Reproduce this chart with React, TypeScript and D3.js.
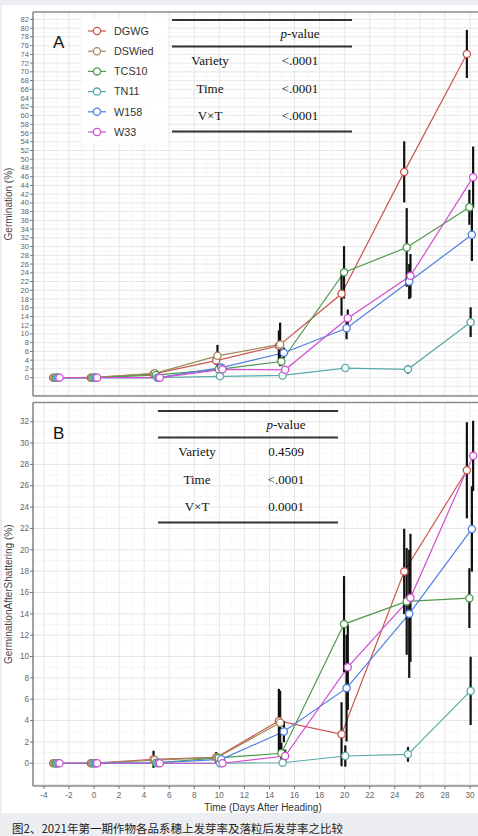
import React from "react";
import * as d3 from "d3";

const times = [-3, 0, 5, 10, 15, 20, 25, 30];
const varieties = ["DGWG", "DSWied", "TCS10", "TN11", "W158", "W33"];
const colors = ["#c9574f", "#a08a5a", "#4f9a4f", "#5aaaa6", "#4f7fe0", "#d150d0"];

// Panel A: Germination (%)
const germA: (number | null)[][] = [
  [0, 0, 0.85, 3.9, 7.3, 19.2, 47.1, 74.1],
  [0, 0, 1.0, 5.0, 7.6, null, null, null],
  [0, 0, 0.6, 1.9, 3.7, 24.1, 29.8, 39.0],
  [0, 0, 0, 0.3, 0.5, 2.2, 1.9, 12.7],
  [0, 0, 0, 2.3, 5.7, 11.3, 22.0, 32.7],
  [0, 0, 0, 1.9, 1.8, 13.6, 23.3, 45.9],
];
const errA: (number | null)[][] = [
  [0, 0, 0.3, 1.0, 3.5, 5.0, 7.0, 5.5],
  [0, 0, 0.5, 2.5, 5.0, null, null, null],
  [0, 0, 0.3, 0.5, 1.0, 6.0, 9.0, 4.0],
  [0, 0, 0, 0.2, 0.3, 0.5, 1.0, 3.4],
  [0, 0, 0, 0.5, 1.2, 2.5, 4.0, 6.0],
  [0, 0, 0, 0.5, 0.5, 2.0, 5.0, 7.0],
];

// Panel B: Germination after shattering (%)
const germB: (number | null)[][] = [
  [0, 0, 0.37, 0.55, 3.97, 2.72, 17.97, 27.45],
  [0, 0, 0.3, 0.55, 3.8, null, null, null],
  [0, 0, 0.05, 0.5, 0.94, 13.04, 15.16, 15.47],
  [0, 0, 0, 0, 0.05, 0.68, 0.84, 6.78],
  [0, 0, 0.05, 0.37, 2.97, 7.04, 14.0, 21.95],
  [0, 0, 0, 0, 0.68, 9.0, 15.5, 28.8],
];
const errB: (number | null)[][] = [
  [0, 0, 0.8, 0.5, 3.0, 3.0, 4.0, 4.5],
  [0, 0, 0.3, 0.4, 3.0, null, null, null],
  [0, 0, 0, 0.2, 1.0, 4.5, 5.0, 2.8],
  [0, 0, 0, 0, 0, 1.0, 0.7, 3.2],
  [0, 0, 0, 0.2, 1.0, 5.0, 6.0, 4.0],
  [0, 0, 0, 0, 0.6, 4.0, 6.0, 3.3],
];

const xTicks = d3.range(-4, 31, 2);
const yTicksA = d3.range(0, 83, 2);
const yTicksB = d3.range(0, 33, 2);

const tableRows = ["Variety", "Time", "V×T"];
const pvalA = ["<.0001", "<.0001", "<.0001"];
const pvalB = ["0.4509", "<.0001", "0.0001"];

const W = 478;
const H = 836;
const plotLeft = 33;
const plotRight = 490;

const x = d3.scaleLinear().domain([0, 30]).range([94, 470]);
const dodge = (i: number) => (i - 2.5) * 0.1;

interface PanelProps {
  top: number;
  bottom: number;
  yDomain: [number, number];
  yTicks: number[];
  data: (number | null)[][];
  err: (number | null)[][];
  label: string;
  yTitle: string;
  showX: boolean;
  table: { x1: number; x2: number; top: number; labelX: number; valX: number; vals: string[] };
  legend: boolean;
}

function Panel(p: PanelProps) {
  const y = d3.scaleLinear().domain(p.yDomain).range([p.bottom, p.top]);
  const xMinor = d3.range(-4, 32, 1);
  const yMinor = d3.range(Math.ceil(p.yDomain[0]), Math.floor(p.yDomain[1]) + 1, 1);
  const line = d3
    .line<[number, number | null]>()
    .defined((d) => d[1] !== null)
    .x((d) => d[0])
    .y((d) => y(d[1] as number));
  const font = "'Liberation Sans', Arial, sans-serif";
  const tb = p.table;
  return (
    <g>
      <clipPath id={"clip" + p.label}>
        <rect x={plotLeft} y={p.top} width={plotRight - plotLeft} height={p.bottom - p.top} />
      </clipPath>
      <rect x={plotLeft} y={p.top} width={plotRight - plotLeft} height={p.bottom - p.top} fill="#fff" />
      <g clipPath={`url(#clip${p.label})`}>
        {yMinor.map((v) => (
          <line key={"ym" + v} x1={plotLeft} x2={plotRight} y1={y(v)} y2={y(v)} stroke={v % 2 === 0 ? "#e6e6e6" : "#f2f2f2"} strokeWidth={v % 2 === 0 ? 1 : 0.6} />
        ))}
        {xMinor.map((v) => (
          <line key={"xm" + v} x1={x(v)} x2={x(v)} y1={p.top} y2={p.bottom} stroke={v % 2 === 0 ? "#e6e6e6" : "#f2f2f2"} strokeWidth={v % 2 === 0 ? 1 : 0.6} />
        ))}
        {p.data.map((s, i) => (
          <path key={"l" + i} d={line(times.map((t, j) => [x(t + dodge(i)), s[j]])) || ""} fill="none" stroke={colors[i]} strokeWidth={1.2} />
        ))}
        {p.data.map((s, i) =>
          s.map((v, j) => {
            const e = p.err[i][j];
            if (v === null || e === null || e === 0) return null;
            const xx = x(times[j] + dodge(i));
            return <line key={"e" + i + "-" + j} x1={xx} x2={xx} y1={y(v - e)} y2={y(v + e)} stroke="#111" strokeWidth={2.2} />;
          })
        )}
        {p.data.map((s, i) =>
          s.map((v, j) =>
            v === null ? null : (
              <circle key={"c" + i + "-" + j} cx={x(times[j] + dodge(i))} cy={y(v)} r={3.6} fill="#fff" stroke={colors[i]} strokeWidth={1.3} />
            )
          )
        )}
      </g>
      {/* border */}
      <line x1={plotLeft} x2={plotRight} y1={p.top} y2={p.top} stroke="#8a8a8a" strokeWidth={1.6} />
      <line x1={plotLeft} x2={plotRight} y1={p.bottom} y2={p.bottom} stroke="#8a8a8a" strokeWidth={1.6} />
      <line x1={plotLeft} x2={plotLeft} y1={p.top} y2={p.bottom} stroke="#8a8a8a" strokeWidth={1.6} />
      {/* y ticks */}
      {p.yTicks.map((v) => (
        <g key={"yt" + v}>
          <line x1={plotLeft - 3} x2={plotLeft} y1={y(v)} y2={y(v)} stroke="#555" strokeWidth={0.8} />
          <text x={plotLeft - 4} y={y(v)} dy="0.33em" textAnchor="end" fontSize={p.yTicks.length > 20 ? 7.6 : 8.2} fill="#666" fontFamily={font}>
            {v}
          </text>
        </g>
      ))}
      <text transform={`translate(12,${(p.top + p.bottom) / 2}) rotate(-90)`} textAnchor="middle" fontSize={10} fill="#444" fontFamily={font}>
        {p.yTitle}
      </text>
      {p.showX &&
        xTicks.map((v) => (
          <g key={"xt" + v}>
            <line x1={x(v)} x2={x(v)} y1={p.bottom} y2={p.bottom + 3} stroke="#555" strokeWidth={0.8} />
            <text x={x(v)} y={p.bottom + 12} textAnchor="middle" fontSize={8.2} fill="#666" fontFamily={font}>
              {v}
            </text>
          </g>
        ))}
      {p.showX && (
        <text x={263} y={p.bottom + 25} textAnchor="middle" fontSize={10} fill="#333" fontFamily={font}>
          Time (Days After Heading)
        </text>
      )}
      <text x={53} y={p.top + 36} fontSize={17} fill="#111" fontFamily={font}>
        {p.label}
      </text>
      {/* legend */}
      {p.legend && (
        <g>
          <rect x={82} y={18} width={86} height={125} fill="#fff" opacity={0.9} />
          {varieties.map((name, i) => (
            <g key={"lg" + i}>
              <line x1={88} x2={106} y1={31 + i * 20.2} y2={31 + i * 20.2} stroke={colors[i]} strokeWidth={1.2} />
              <circle cx={97} cy={31 + i * 20.2} r={3.6} fill="#fff" stroke={colors[i]} strokeWidth={1.3} />
              <text x={114} y={31 + i * 20.2} dy="0.35em" fontSize={10.8} fill="#333" fontFamily={font}>
                {name}
              </text>
            </g>
          ))}
        </g>
      )}
      {/* p-value table */}
      <g fontFamily="'Liberation Serif', 'Times New Roman', serif" fill="#111" fontSize={13}>
        <line x1={tb.x1} x2={tb.x2} y1={tb.top} y2={tb.top} stroke="#333" strokeWidth={1.8} />
        <text x={tb.valX} y={tb.top + 18} textAnchor="middle">
          <tspan fontStyle="italic">p</tspan>-value
        </text>
        <line x1={tb.x1} x2={tb.x2} y1={tb.top + 26.5} y2={tb.top + 26.5} stroke="#333" strokeWidth={1.8} />
        {tableRows.map((r, k) => (
          <g key={"tr" + k}>
            <text x={tb.labelX} y={tb.top + 45 + k * 27.5} textAnchor="middle">
              {r}
            </text>
            <text x={tb.valX} y={tb.top + 45 + k * 27.5} textAnchor="middle">
              {tb.vals[k]}
            </text>
          </g>
        ))}
        <line x1={tb.x1} x2={tb.x2} y1={tb.top + 111.5} y2={tb.top + 111.5} stroke="#333" strokeWidth={1.8} />
      </g>
    </g>
  );
}

export default function App() {
  return (
    <svg width={W} height={H} style={{ position: "absolute", left: 0, top: 0 }}>
      <rect x={0} y={0} width={W} height={H} fill="#eceef1" />
      <rect x={2} y={5} width={W} height={808} fill="#fff" />
      <Panel
        top={12}
        bottom={396}
        yDomain={[-4.2, 83.7]}
        yTicks={yTicksA}
        data={germA}
        err={errA}
        label="A"
        yTitle="Germination (%)"
        showX={false}
        legend={true}
        table={{ x1: 172, x2: 352, top: 20, labelX: 210, valX: 300, vals: pvalA }}
      />
      <Panel
        top={402.5}
        bottom={786}
        yDomain={[-2.13, 33.8]}
        yTicks={yTicksB}
        data={germB}
        err={errB}
        label="B"
        yTitle="GerminationAfterShattering (%)"
        showX={true}
        legend={false}
        table={{ x1: 158, x2: 338, top: 411, labelX: 197, valX: 286, vals: pvalB }}
      />
      <text x={12} y={833} fontSize={11.5} fill="#222" fontFamily="'Noto Sans CJK SC', sans-serif">
        图2、2021年第一期作物各品系穗上发芽率及落粒后发芽率之比较
      </text>
    </svg>
  );
}
